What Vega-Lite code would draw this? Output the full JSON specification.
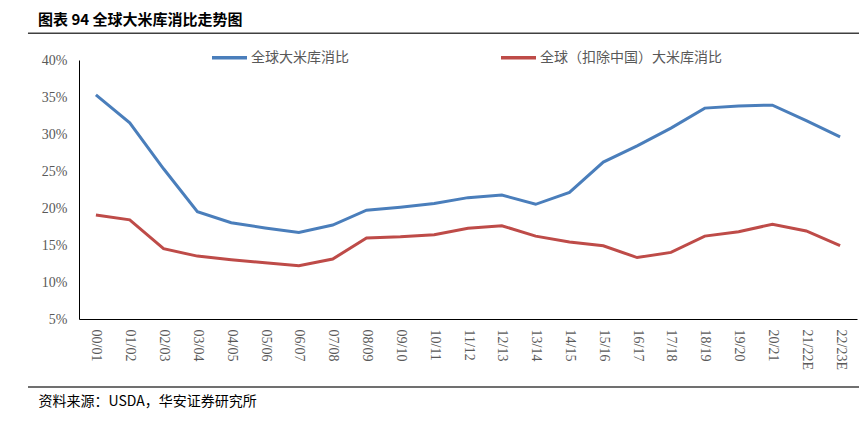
{
  "$schema": "https://vega.github.io/schema/vega-lite/v6.json",
  "width": 778,
  "height": 259,
  "autosize": {"type": "none"},
  "padding": {"left": 79, "top": 60, "right": 2, "bottom": 102},
  "background": "white",
  "config": {"view": {"stroke": null}, "axis": {"labelOverlap": false}},
  "title": {
    "text": "图表 94  全球大米库消比走势图",
    "anchor": "start",
    "frame": "group",
    "dx": -41,
    "offset": 5,
    "fontSize": 15,
    "fontWeight": "bold",
    "font": "Noto Sans CJK SC",
    "color": "#000000"
  },
  "datasets": {
    "ratio": [
      {"year": "00/01", "series": "全球大米库消比", "value": 35.3},
      {"year": "01/02", "series": "全球大米库消比", "value": 31.5},
      {"year": "02/03", "series": "全球大米库消比", "value": 25.3},
      {"year": "03/04", "series": "全球大米库消比", "value": 19.5},
      {"year": "04/05", "series": "全球大米库消比", "value": 18.0},
      {"year": "05/06", "series": "全球大米库消比", "value": 17.3},
      {"year": "06/07", "series": "全球大米库消比", "value": 16.7},
      {"year": "07/08", "series": "全球大米库消比", "value": 17.7},
      {"year": "08/09", "series": "全球大米库消比", "value": 19.7},
      {"year": "09/10", "series": "全球大米库消比", "value": 20.1},
      {"year": "10/11", "series": "全球大米库消比", "value": 20.6},
      {"year": "11/12", "series": "全球大米库消比", "value": 21.4},
      {"year": "12/13", "series": "全球大米库消比", "value": 21.75},
      {"year": "13/14", "series": "全球大米库消比", "value": 20.5},
      {"year": "14/15", "series": "全球大米库消比", "value": 22.1},
      {"year": "15/16", "series": "全球大米库消比", "value": 26.2},
      {"year": "16/17", "series": "全球大米库消比", "value": 28.4},
      {"year": "17/18", "series": "全球大米库消比", "value": 30.8},
      {"year": "18/19", "series": "全球大米库消比", "value": 33.5},
      {"year": "19/20", "series": "全球大米库消比", "value": 33.8},
      {"year": "20/21", "series": "全球大米库消比", "value": 33.9},
      {"year": "21/22E", "series": "全球大米库消比", "value": 31.8},
      {"year": "22/23E", "series": "全球大米库消比", "value": 29.6},
      {"year": "00/01", "series": "全球（扣除中国）大米库消比", "value": 19.05},
      {"year": "01/02", "series": "全球（扣除中国）大米库消比", "value": 18.4},
      {"year": "02/03", "series": "全球（扣除中国）大米库消比", "value": 14.5},
      {"year": "03/04", "series": "全球（扣除中国）大米库消比", "value": 13.5},
      {"year": "04/05", "series": "全球（扣除中国）大米库消比", "value": 13.0},
      {"year": "05/06", "series": "全球（扣除中国）大米库消比", "value": 12.6},
      {"year": "06/07", "series": "全球（扣除中国）大米库消比", "value": 12.2},
      {"year": "07/08", "series": "全球（扣除中国）大米库消比", "value": 13.1},
      {"year": "08/09", "series": "全球（扣除中国）大米库消比", "value": 15.95},
      {"year": "09/10", "series": "全球（扣除中国）大米库消比", "value": 16.1},
      {"year": "10/11", "series": "全球（扣除中国）大米库消比", "value": 16.4},
      {"year": "11/12", "series": "全球（扣除中国）大米库消比", "value": 17.25},
      {"year": "12/13", "series": "全球（扣除中国）大米库消比", "value": 17.6},
      {"year": "13/14", "series": "全球（扣除中国）大米库消比", "value": 16.2},
      {"year": "14/15", "series": "全球（扣除中国）大米库消比", "value": 15.4},
      {"year": "15/16", "series": "全球（扣除中国）大米库消比", "value": 14.9},
      {"year": "16/17", "series": "全球（扣除中国）大米库消比", "value": 13.3},
      {"year": "17/18", "series": "全球（扣除中国）大米库消比", "value": 14.0},
      {"year": "18/19", "series": "全球（扣除中国）大米库消比", "value": 16.2},
      {"year": "19/20", "series": "全球（扣除中国）大米库消比", "value": 16.8},
      {"year": "20/21", "series": "全球（扣除中国）大米库消比", "value": 17.8},
      {"year": "21/22E", "series": "全球（扣除中国）大米库消比", "value": 16.9},
      {"year": "22/23E", "series": "全球（扣除中国）大米库消比", "value": 14.9}
    ]
  },
  "layer": [
    {
      "data": {"name": "ratio"},
      "mark": {"type": "line", "strokeWidth": 3, "clip": false},
      "encoding": {
        "x": {
          "field": "year",
          "type": "ordinal",
          "sort": null,
          "scale": {"type": "point", "padding": 0.5},
          "axis": {
            "title": "资料来源：USDA，华安证券研究所",
            "titleFont": "Noto Sans CJK SC",
            "titleFontSize": 14,
            "titleFontWeight": "normal",
            "titleColor": "#000000",
            "titleAnchor": "start",
            "titleAlign": "left",
            "titleBaseline": "middle",
            "titleX": -41,
            "titleY": 82,
            "labelAngle": 90,
            "labelFont": "Liberation Serif",
            "labelFontSize": 14,
            "labelColor": "#595959",
            "labelPadding": 10,
            "labelOverlap": false,
            "ticks": false,
            "domainColor": "#000000",
            "domainWidth": 1,
            "grid": false
          }
        },
        "y": {
          "field": "value",
          "type": "quantitative",
          "scale": {"domain": [5, 40], "nice": false, "zero": false},
          "axis": {
            "title": null,
            "values": [5, 10, 15, 20, 25, 30, 35, 40],
            "tickCount": 8,
            "labelExpr": "datum.value + '%'",
            "labelFont": "Liberation Serif",
            "labelFontSize": 14,
            "labelColor": "#595959",
            "labelPadding": 12,
            "labelOverlap": false,
            "ticks": false,
            "grid": false,
            "domainColor": "#000000",
            "domainWidth": 1
          }
        },
        "color": {
          "field": "series",
          "type": "nominal",
          "scale": {
            "domain": ["全球大米库消比", "全球（扣除中国）大米库消比"],
            "range": ["#4a7ebb", "#be4b48"]
          },
          "legend": {
            "title": null,
            "orient": "none",
            "direction": "horizontal",
            "legendX": 131,
            "legendY": -22,
            "symbolType": "stroke",
            "symbolStrokeWidth": 3.5,
            "symbolSize": 1225,
            "labelFont": "Noto Sans CJK SC",
            "labelFontSize": 14,
            "labelColor": "#595959",
            "labelOffset": 2,
            "labelLimit": 400,
            "columnPadding": 145
          }
        }
      }
    },
    {
      "data": {"values": [{}]},
      "mark": {"type": "rule", "color": "#404040", "strokeWidth": 1.5, "clip": false},
      "encoding": {
        "x": {"datum": -0.0656, "type": "quantitative", "scale": {"domain": [0, 1]}, "axis": null},
        "x2": {"datum": 1.0026},
        "y": {"datum": 43.6, "type": "quantitative", "axis": null}
      }
    },
    {
      "data": {"values": [{}]},
      "mark": {"type": "rule", "color": "#404040", "strokeWidth": 1.5, "clip": false},
      "encoding": {
        "x": {"datum": -0.0656, "type": "quantitative", "scale": {"domain": [0, 1]}, "axis": null},
        "x2": {"datum": 1.0026},
        "y": {"datum": -4.2, "type": "quantitative", "axis": null}
      }
    }
  ],
  "resolve": {"scale": {"x": "independent"}, "axis": {"y": "independent"}}
}
